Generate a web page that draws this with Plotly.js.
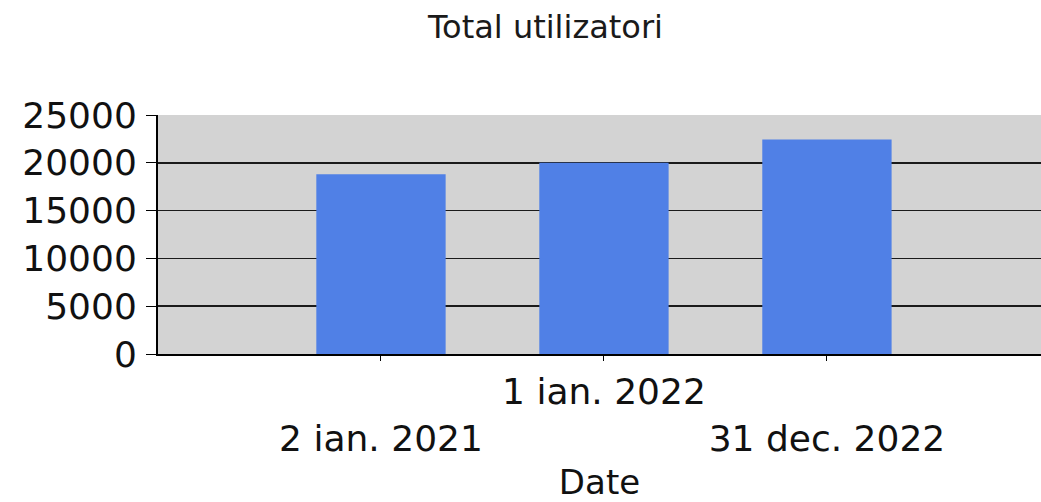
<!DOCTYPE html>
<html>
<head>
<meta charset="utf-8">
<script src="https://cdn.plot.ly/plotly-3.0.1.min.js"></script>
<style>html,body{margin:0;padding:0;background:#fff;}#chart{width:1041px;height:502px;}</style>
</head>
<body>
<div id="chart"></div>
<script>
var categories = ["2 ian. 2021", "1 ian. 2022", "31 dec. 2022"];
var totalUsers = [18800, 20000, 22450];
var tickLabels = ["&nbsp;<br>2 ian. 2021", "1 ian. 2022", "&nbsp;<br>31 dec. 2022"];
var yTicks = [0, 5000, 10000, 15000, 20000, 25000];

var font = "DejaVu Sans, Verdana, sans-serif";

var trace = {
  type: "bar",
  x: categories,
  y: totalUsers,
  width: 0.58,
  marker: {color: "#5080e6", line: {width: 0}},
  hoverinfo: "x+y"
};

var layout = {
  width: 1041,
  height: 502,
  margin: {l: 158, r: 0, t: 115, b: 148, pad: 0},
  paper_bgcolor: "#ffffff",
  plot_bgcolor: "#d3d3d3",
  showlegend: false,
  title: {
    text: "Total utilizatori",
    font: {family: font, size: 32, color: "#1a1a1a"},
    x: 0.524, xanchor: "center",
    y: 0.946, yanchor: "middle"
  },
  xaxis: {
    type: "category",
    range: [-1, 2.96],
    tickvals: categories,
    ticktext: tickLabels,
    ticks: "outside",
    ticklen: 5,
    tickcolor: "#000",
    showgrid: false,
    showline: true,
    linecolor: "#000",
    linewidth: 2,
    tickfont: {family: font, size: 36, color: "#111"},
    title: {text: "Date", font: {family: font, size: 34, color: "#111"}, standoff: 21},
    fixedrange: true
  },
  yaxis: {
    range: [0, 25000],
    tickvals: yTicks,
    tickformat: "d",
    ticks: "outside",
    ticklen: 10,
    tickcolor: "#000",
    showgrid: true,
    gridcolor: "#1a1a1a",
    gridwidth: 1.5,
    zeroline: false,
    showline: true,
    linecolor: "#000",
    linewidth: 2,
    tickfont: {family: font, size: 36, color: "#111"},
    ticklabelstandoff: 2,
    fixedrange: true
  }
};

Plotly.newPlot("chart", [trace], layout, {displayModeBar: false, staticPlot: true});
</script>
</body>
</html>
